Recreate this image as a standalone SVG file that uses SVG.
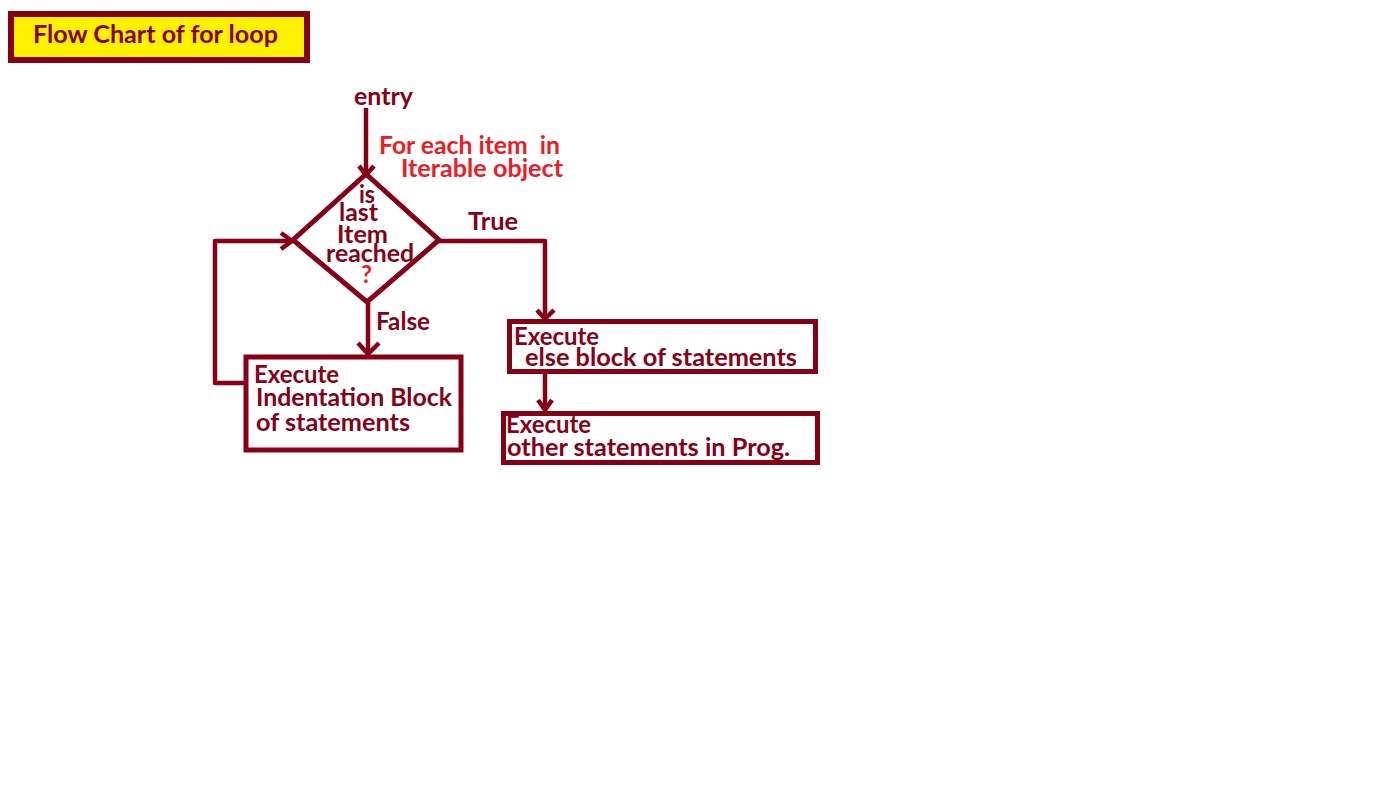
<svg xmlns="http://www.w3.org/2000/svg" width="1398" height="800" viewBox="0 0 1398 800">
<style>
.box{fill:#ffffff;stroke:#880015;stroke-width:5}
.ln{fill:none;stroke:#880015;stroke-width:4.5;stroke-linejoin:round}
.t{font-family:Lato,"Open Sans","Liberation Sans",sans-serif;font-weight:bold;fill:#880015;font-size:24px}
.r{fill:#ED1C24}
</style>
<rect width="1398" height="800" fill="#ffffff"/>
<g id="title">
<rect x="11" y="14" width="296" height="46" fill="#FFF200" stroke="#880015" stroke-width="6"/>
<text class="t" x="33" y="43" font-size="22" textLength="245" lengthAdjust="spacingAndGlyphs">Flow Chart of for loop</text>
</g>
<g id="entry">
<text class="t" x="354" y="105" textLength="59" lengthAdjust="spacingAndGlyphs">entry</text>
<text class="t r" x="379" y="154" font-size="22" textLength="181" lengthAdjust="spacingAndGlyphs" xml:space="preserve">For each item  in</text>
<text class="t r" x="401" y="177" font-size="22" textLength="162" lengthAdjust="spacingAndGlyphs">Iterable object</text>
</g>
<g id="decision">
<polygon class="box" points="366,174 439,240 367,302 293,240"/>
<text class="t" x="359" y="203" textLength="16" lengthAdjust="spacingAndGlyphs">is</text>
<text class="t" x="339" y="221" textLength="39" lengthAdjust="spacingAndGlyphs">last</text>
<text class="t" x="337" y="243" textLength="51" lengthAdjust="spacingAndGlyphs">Item</text>
<text class="t" x="326" y="262" textLength="88" lengthAdjust="spacingAndGlyphs">reached</text>
<text class="t r" x="361" y="283" textLength="11" lengthAdjust="spacingAndGlyphs">?</text>
</g>
<g id="indent-block">
<rect class="box" x="246" y="357" width="215" height="93"/>
<text class="t" x="254" y="383" font-size="25" textLength="85" lengthAdjust="spacingAndGlyphs">Execute</text>
<text class="t" x="256" y="406" font-size="25" textLength="196" lengthAdjust="spacingAndGlyphs">Indentation Block</text>
<text class="t" x="256" y="431" font-size="25" textLength="154" lengthAdjust="spacingAndGlyphs">of statements</text>
</g>
<g id="else-block">
<rect class="box" x="509.5" y="321.5" width="306" height="50"/>
<text class="t" x="514" y="345" textLength="85" lengthAdjust="spacingAndGlyphs">Execute</text>
<text class="t" x="525" y="366" textLength="272" lengthAdjust="spacingAndGlyphs">else block of statements</text>
</g>
<g id="other-statements">
<rect class="box" x="503.5" y="413.5" width="314" height="49"/>
<text class="t" x="506" y="433" textLength="85" lengthAdjust="spacingAndGlyphs">Execute</text>
<text class="t" x="507" y="456" textLength="283" lengthAdjust="spacingAndGlyphs">other statements in Prog.</text>
</g>
<g id="connectors">
<polyline class="ln" points="366,108 366,175"/>
<polyline class="ln" points="359,166 366,175 374,166"/>
<polyline class="ln" points="439,241 545,241 545,319"/>
<polyline class="ln" points="537,310 545,319 554,310"/>
<text class="t" x="468" y="230" font-size="22" textLength="50" lengthAdjust="spacingAndGlyphs">True</text>
<polyline class="ln" points="368,302 368,354"/>
<polyline class="ln" points="358,343 368,354 379,343"/>
<text class="t" x="376" y="330" font-size="22" textLength="54" lengthAdjust="spacingAndGlyphs">False</text>
<polyline class="ln" points="545,374 545,410"/>
<polyline class="ln" points="538,400 545,410 552,400"/>
<polyline class="ln" points="244,383 215,383 215,241 292,241"/>
<polyline class="ln" points="281,233 292,241 281,249"/>
</g>
</svg>
